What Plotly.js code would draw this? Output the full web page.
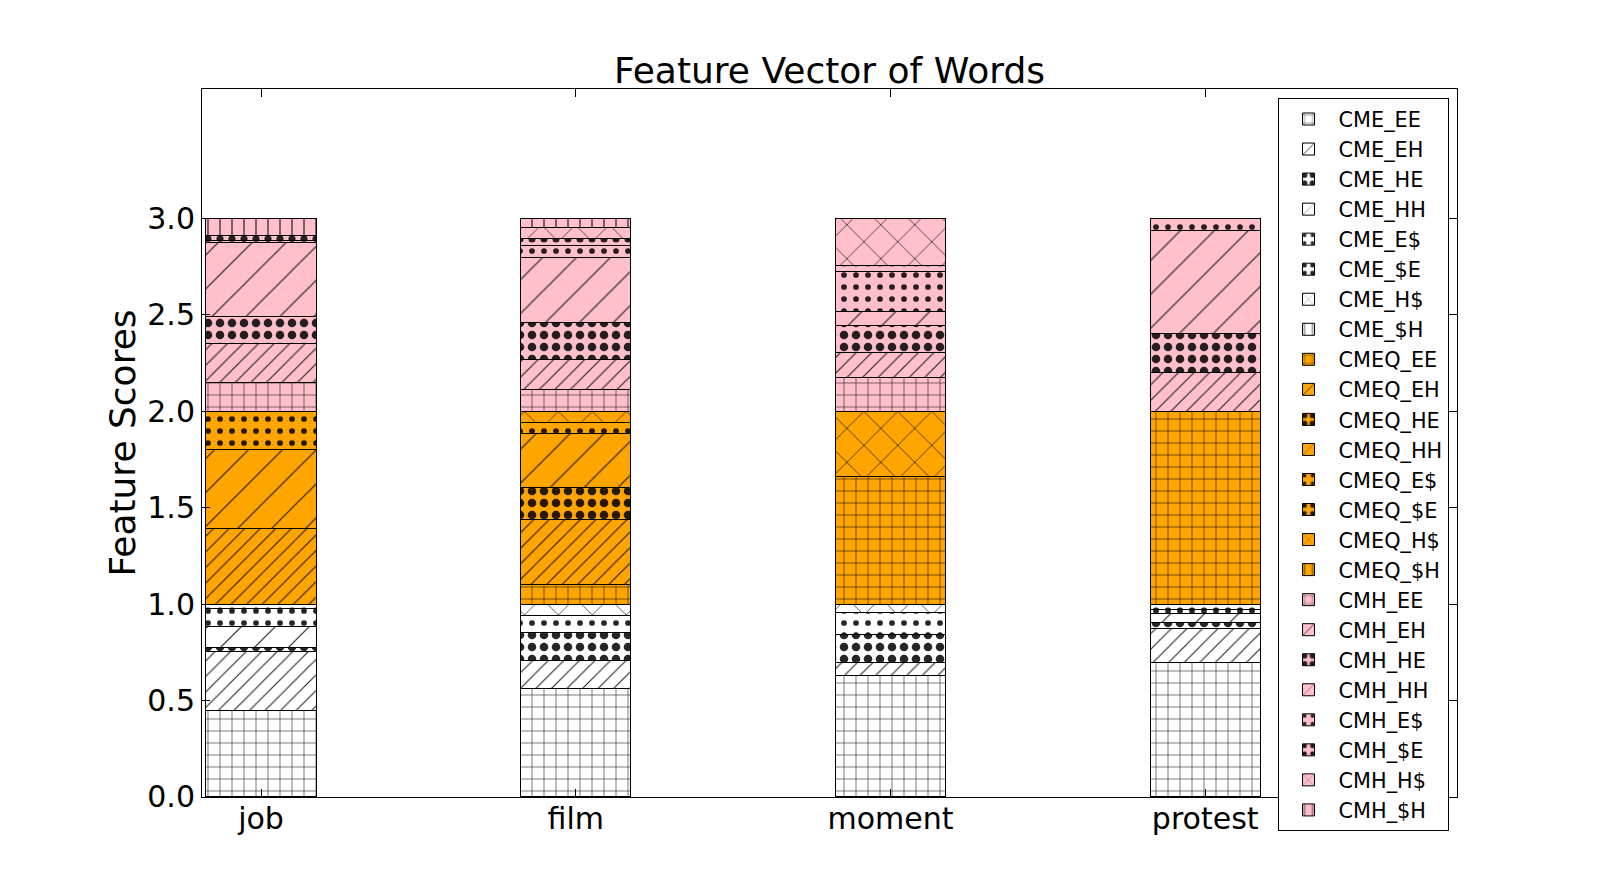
<!DOCTYPE html>
<html>
<head>
<meta charset="utf-8">
<script src="https://cdn.plot.ly/plotly-3.0.1.min.js"></script>
<style>html,body{margin:0;padding:0;background:#fff;}#chart{width:1618px;height:887px;}</style>
</head>
<body>
<div id="chart"></div>
<script>
var categories = ['job', 'film', 'moment', 'protest'];
var positions = [0, 1, 2, 3];

var CME_EE  = [0.450, 0.563, 0.632, 0.700];
var CME_EH  = [0.305, 0.145, 0.064, 0.172];
var CME_HE  = [0.020, 0.144, 0.147, 0.035];
var CME_HH  = [0.110, 0.000, 0.000, 0.045];
var CME_Ed  = [0.090, 0.090, 0.112, 0.020];
var CME_dE  = [0.025, 0.000, 0.000, 0.028];
var CME_Hd  = [0.000, 0.058, 0.045, 0.000];
var CME_dH  = [0.000, 0.000, 0.000, 0.000];

var CMEQ_EE = [0.000, 0.100, 0.664, 1.000];
var CMEQ_EH = [0.390, 0.337, 0.000, 0.000];
var CMEQ_HE = [0.000, 0.170, 0.000, 0.000];
var CMEQ_HH = [0.410, 0.280, 0.000, 0.000];
var CMEQ_Ed = [0.200, 0.055, 0.000, 0.000];
var CMEQ_dE = [0.000, 0.000, 0.000, 0.000];
var CMEQ_Hd = [0.000, 0.058, 0.336, 0.000];
var CMEQ_dH = [0.000, 0.000, 0.000, 0.000];

var CMH_EE  = [0.150, 0.112, 0.174, 0.000];
var CMH_EH  = [0.200, 0.157, 0.133, 0.200];
var CMH_HE  = [0.140, 0.194, 0.140, 0.202];
var CMH_HH  = [0.384, 0.334, 0.070, 0.536];
var CMH_Ed  = [0.013, 0.063, 0.210, 0.062];
var CMH_dE  = [0.025, 0.035, 0.030, 0.000];
var CMH_Hd  = [0.000, 0.057, 0.243, 0.000];
var CMH_dH  = [0.088, 0.048, 0.000, 0.000];

var seriesNames = ['CME_EE','CME_EH','CME_HE','CME_HH','CME_E$','CME_$E','CME_H$','CME_$H',
  'CMEQ_EE','CMEQ_EH','CMEQ_HE','CMEQ_HH','CMEQ_E$','CMEQ_$E','CMEQ_H$','CMEQ_$H',
  'CMH_EE','CMH_EH','CMH_HE','CMH_HH','CMH_E$','CMH_$E','CMH_H$','CMH_$H'];
var seriesValues = [CME_EE, CME_EH, CME_HE, CME_HH, CME_Ed, CME_dE, CME_Hd, CME_dH,
  CMEQ_EE, CMEQ_EH, CMEQ_HE, CMEQ_HH, CMEQ_Ed, CMEQ_dE, CMEQ_Hd, CMEQ_dH,
  CMH_EE, CMH_EH, CMH_HE, CMH_HH, CMH_Ed, CMH_dE, CMH_Hd, CMH_dH];

var groupColors = ['#ffffff', '#ffa500', '#ffc0cb'];
var hatches = [
  {shape: '+', size: 12, solidity: 0.1},
  {shape: '/', size: 11, solidity: 0.1},
  {shape: '.', size: 12, solidity: 0.4},
  {shape: '/', size: 24, solidity: 0.05},
  {shape: '.', size: 12, solidity: 0.18},
  {shape: '.', size: 12, solidity: 0.28},
  {shape: 'x', size: 24, solidity: 0.06},
  {shape: '|', size: 12, solidity: 0.1}
];

var traces = [];
for (var i = 0; i < seriesNames.length; i++) {
  var g = Math.floor(i / 8), h = hatches[i % 8];
  traces.push({
    type: 'bar',
    name: seriesNames[i],
    x: positions,
    y: seriesValues[i],
    width: 0.35,
    marker: {
      color: groupColors[g],
      line: {color: '#000000', width: 1},
      pattern: {shape: h.shape, size: h.size, solidity: h.solidity,
                fgcolor: '#000000', bgcolor: groupColors[g], fillmode: 'overlay', fgopacity: 0.85}
    },
    hoverinfo: 'name+y'
  });
}

var layout = {
  width: 1618, height: 887,
  paper_bgcolor: '#ffffff', plot_bgcolor: '#ffffff',
  barmode: 'stack',
  bargap: 0,
  font: {family: 'DejaVu Sans, sans-serif', color: '#000000'},
  margin: {l: 202, r: 161, t: 20, b: 40},
  title: {text: 'Feature Vector of Words', font: {size: 36, color: '#000'},
          xref: 'paper', x: 0.5, xanchor: 'center', y: 0.921, yanchor: 'middle', yref: 'container'},
  xaxis: {
    range: [-0.1875, 3.8],
    tickvals: positions, ticktext: categories,
    tickfont: {size: 30},
    ticks: 'inside', ticklen: 8, tickcolor: '#000',
    ticklabelstandoff: -5,
    showline: true, linecolor: '#000', linewidth: 1, mirror: 'allticks',
    showgrid: false, zeroline: false, fixedrange: true
  },
  yaxis: {
    domain: [0.0605, 0.9166],
    range: [0, 3.672],
    tickvals: [0, 0.5, 1.0, 1.5, 2.0, 2.5, 3.0],
    ticktext: ['0.0', '0.5', '1.0', '1.5', '2.0', '2.5', '3.0'],
    tickfont: {size: 30},
    ticks: 'inside', ticklen: 8, tickcolor: '#000',
    showline: true, linecolor: '#000', linewidth: 1, mirror: 'allticks',
    showgrid: false, zeroline: false,
    title: {text: 'Feature Scores', font: {size: 36}, standoff: 0}
  },
  legend: {
    x: 0.857, xanchor: 'left', y: 0.9057, yanchor: 'top',
    traceorder: 'normal',
    bgcolor: '#ffffff', bordercolor: '#000000', borderwidth: 1,
    font: {size: 20.8}, tracegroupgap: 0, itemwidth: 50
  },
  showlegend: true
};

Plotly.newPlot('chart', traces, layout, {displayModeBar: false, staticPlot: true});
</script>
</body>
</html>
